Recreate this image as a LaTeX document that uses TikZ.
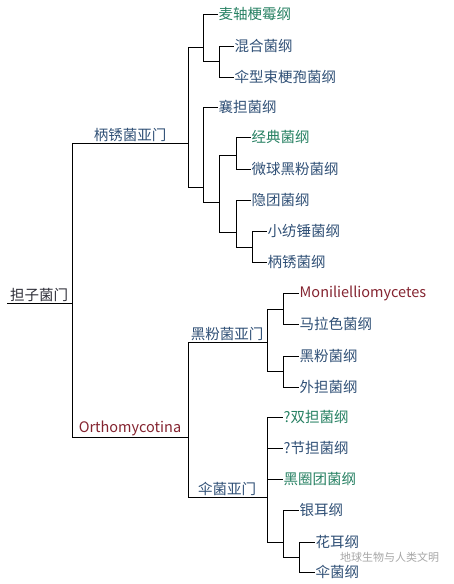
\documentclass[tikz,border=0pt]{standalone}
\usepackage{fontspec}
\setmainfont{Noto Sans CJK SC}
\definecolor{taxblue}{RGB}{48,80,118}
\definecolor{taxgreen}{RGB}{38,128,98}
\definecolor{taxred}{RGB}{132,36,48}
\definecolor{taxdark}{RGB}{45,45,55}
\tikzset{
  leaf/.style={anchor=west,inner sep=0.5pt,text=taxblue,font=\fontsize{14.5}{16}\selectfont},
  leafgreen/.style={leaf,text=taxgreen},
  leafred/.style={leaf,text=taxred},
  sublbl/.style={anchor=south,inner sep=1pt,text=taxblue,font=\fontsize{14.5}{16}\selectfont},
  branch/.style={line width=0.9pt,black}
}

\begin{document}
\begin{tikzpicture}[x=1pt,y=-1pt]
            \useasboundingbox (0,0) rectangle (454,584);
            % root
            \coordinate (basid) at (72,303);
            \coordinate (basidend) at (7,303);
            \node[sublbl,text=taxdark] (basidlbl) at (39,303) {担子菌门};
            \draw[branch] (basidend) -- (basid);

            % Pucciniomycotina
            \coordinate (puc) at (188,143);
            \node[sublbl] (puclbl) at (130,143) {柄锈菌亚门};
            \coordinate (pucA) at (203,47);
            \coordinate (pucAA) at (219,61);
            \coordinate (pucB) at (203,187);
            \coordinate (pucBA) at (219,202);
            \coordinate (pucBB) at (236,155);
            \coordinate (pucBC) at (236,232);
            \coordinate (pucBD) at (252,247);
            \node[leafgreen] (maizhou) at (218,14) {麦轴梗霉纲};
            \node[leaf] (hunhe) at (234,46) {混合菌纲};
            \node[leaf] (sanxing) at (234,77) {伞型束梗孢菌纲};
            \node[leaf] (xiangdan) at (218,107) {襄担菌纲};
            \node[leafgreen] (jingdian) at (251,137) {经典菌纲};
            \node[leaf] (weiqiu) at (251,169) {微球黑粉菌纲};
            \node[leaf] (yintuan) at (251,200) {隐团菌纲};
            \node[leaf] (xiaofang) at (267,231) {小纺锤菌纲};
            \node[leaf] (bingxiu) at (267,262) {柄锈菌纲};
            \draw[branch] (basid) |- (puc);
            \draw[branch] (puc) |- (pucA);
            \draw[branch] (puc) |- (pucB);
            \draw[branch] (pucA) |- (maizhou.west);
            \draw[branch] (pucA) |- (pucAA);
            \draw[branch] (pucAA) |- (hunhe.west);
            \draw[branch] (pucAA) |- (sanxing.west);
            \draw[branch] (pucB) |- (xiangdan.west);
            \draw[branch] (pucB) |- (pucBA);
            \draw[branch] (pucBA) |- (pucBB);
            \draw[branch] (pucBA) |- (pucBC);
            \draw[branch] (pucBB) |- (jingdian.west);
            \draw[branch] (pucBB) |- (weiqiu.west);
            \draw[branch] (pucBC) |- (yintuan.west);
            \draw[branch] (pucBC) |- (pucBD);
            \draw[branch] (pucBD) |- (xiaofang.west);
            \draw[branch] (pucBD) |- (bingxiu.west);

            % Orthomycotina
            \coordinate (orth) at (188,437);
            \node[sublbl,text=taxred] (orthlbl) at (130,437) {Orthomycotina};
            \coordinate (ust) at (267,342);
            \node[sublbl] (ustlbl) at (227,342) {黑粉菌亚门};
            \coordinate (ustA) at (283,309);
            \coordinate (ustB) at (283,371);
            \coordinate (aga) at (267,497);
            \node[sublbl] (agalbl) at (227,497) {伞菌亚门};
            \coordinate (agaA) at (283,542);
            \coordinate (agaB) at (299,557);
            \node[leafred] (monil) at (299,293) {Monilielliomycetes};
            \node[leaf] (malase) at (299,324) {马拉色菌纲};
            \node[leaf] (heifen) at (299,356) {黑粉菌纲};
            \node[leaf] (waidan) at (299,387) {外担菌纲};
            \node[leafgreen] (shuangdan) at (283,417) {?双担菌纲};
            \node[leaf] (jiedan) at (283,448) {?节担菌纲};
            \node[leafgreen] (heiquan) at (283,479) {黑圈团菌纲};
            \node[leaf] (yiner) at (299,510) {银耳纲};
            \node[leaf] (huaer) at (315,542) {花耳纲};
            \node[leaf] (sanjun) at (315,572) {伞菌纲};
            \draw[branch] (basid) |- (orth);
            \draw[branch] (orth) |- (ust);
            \draw[branch] (orth) |- (aga);
            \draw[branch] (ust) |- (ustA);
            \draw[branch] (ust) |- (ustB);
            \draw[branch] (ustA) |- (monil.west);
            \draw[branch] (ustA) |- (malase.west);
            \draw[branch] (ustB) |- (heifen.west);
            \draw[branch] (ustB) |- (waidan.west);
            \draw[branch] (aga) |- (shuangdan.west);
            \draw[branch] (aga) |- (jiedan.west);
            \draw[branch] (aga) |- (heiquan.west);
            \draw[branch] (aga) |- (agaA);
            \draw[branch] (agaA) |- (yiner.west);
            \draw[branch] (agaA) |- (agaB);
            \draw[branch] (agaB) |- (huaer.west);
            \draw[branch] (agaB) |- (sanjun.west);

            % watermark
            \node[anchor=west,inner sep=0pt,text=black!35,font=\fontsize{11}{12}\selectfont] (mark) at (340,557) {地球生物与人类文明};
\end{tikzpicture}
\end{document}
